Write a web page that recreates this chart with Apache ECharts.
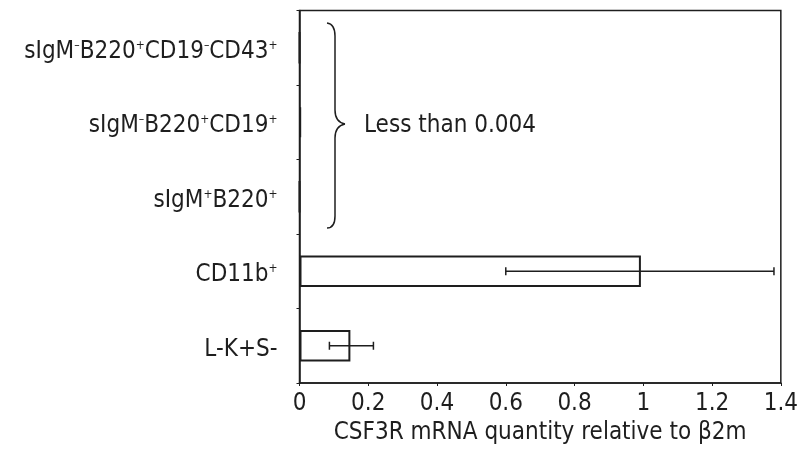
<!doctype html>
<html lang="en">
    <head>
        <meta charset="UTF-8" />
        <title>CSF3R mRNA</title>
        <script src="https://cdn.jsdelivr.net/npm/echarts@6.0.0/dist/echarts.min.js"></script>
        <style>
            body { margin: 0; background: #fff; }
        </style>
    </head>
    <body>
        <div id="main" style="width: 801px; height: 457px"></div>

        <script>
            // categories from bottom to top, "^" marks a superscript
            const categories = [
                "L-K+S-",
                "CD11b^+",
                "sIgM^+B220^+",
                "sIgM^-B220^+CD19^+",
                "sIgM^-B220^+CD19^-CD43^+",
            ];
            const values = [0.148, 0.993, 0, 0.004, 0];
            const errLow = [0.087, 0.6, null, null, null];
            const errHigh = [0.215, 1.38, null, null, null];
            const xTicks = [0, 0.2, 0.4, 0.6, 0.8, 1, 1.2, 1.4];

            const FONT = '"Liberation Sans Narrow", "DejaVu Sans Condensed", sans-serif';
            const INK = "#1e1e1e";

            const errData = [];
            categories.forEach((c, i) => {
                if (errLow[i] != null) errData.push([errLow[i], errHigh[i], i]);
            });

            function richLabel(name) {
                const body = name.replace(/\^([+-])/g, (m, s) =>
                    s === "+" ? "}{p|+}{t|" : "}{m|–}{t|"
                );
                return "{t|" + body + "}";
            }

            // curly brace next to the three tiny bars
            const braceStyle = { fill: "none", stroke: INK, lineWidth: 1.5 };
            const brace = [
                { type: "bezierCurve", shape: { x1: 327, y1: 23, cpx1: 335, cpy1: 24, x2: 335, y2: 36 } },
                { type: "line", shape: { x1: 335, y1: 36, x2: 335, y2: 110 } },
                { type: "bezierCurve", shape: { x1: 335, y1: 110, cpx1: 335, cpy1: 122, x2: 345, y2: 124 } },
                { type: "bezierCurve", shape: { x1: 345, y1: 124, cpx1: 335, cpy1: 126, x2: 335, y2: 138 } },
                { type: "line", shape: { x1: 335, y1: 138, x2: 335, y2: 216 } },
                { type: "bezierCurve", shape: { x1: 335, y1: 216, cpx1: 335, cpy1: 228, x2: 327, y2: 228 } },
            ].map((e) => Object.assign(e, { style: braceStyle }));

            const myChart = echarts.init(document.getElementById("main"));

            const options = {
                animation: false,
                grid: {
                    left: 299.5,
                    right: 19,
                    top: 10.5,
                    bottom: 74,
                    show: true,
                    borderColor: INK,
                    borderWidth: 1.5,
                    backgroundColor: "transparent",
                },
                xAxis: {
                    type: "value",
                    min: 0,
                    max: 1.4,
                    interval: 0.2,
                    splitLine: { show: false },
                    axisLine: { show: true, lineStyle: { color: INK, width: 1.5 } },
                    axisTick: { show: true, length: 3, lineStyle: { color: INK } },
                    axisLabel: {
                        color: INK,
                        fontFamily: FONT,
                        fontSize: 24,
                        margin: 9,
                        formatter: (v) => {
                            const t = xTicks.find((x) => Math.abs(x - v) < 1e-9);
                            return t === undefined ? "" : String(t);
                        },
                    },
                    name: "CSF3R mRNA quantity relative to β2m",
                    nameLocation: "middle",
                    nameGap: 37,
                    nameTextStyle: { color: INK, fontFamily: FONT, fontSize: 24 },
                },
                yAxis: {
                    type: "category",
                    data: categories,
                    axisLine: { show: true, lineStyle: { color: INK, width: 1.5 } },
                    axisTick: { show: true, length: 3, lineStyle: { color: INK } },
                    axisLabel: {
                        color: INK,
                        fontFamily: FONT,
                        fontSize: 24,
                        margin: 22,
                        padding: [8, 0, 0, 0],
                        formatter: richLabel,
                        rich: {
                            t: { fontSize: 24, fontFamily: FONT, color: INK },
                            p: { fontSize: 12, fontFamily: FONT, color: INK, verticalAlign: "top" },
                            m: { fontSize: 12, fontFamily: FONT, color: INK, verticalAlign: "top" },
                        },
                    },
                },
                series: [
                    {
                        type: "bar",
                        data: values,
                        barWidth: "42%",
                        itemStyle: {
                            color: "rgba(255,255,255,0)",
                            borderColor: INK,
                            borderWidth: 2,
                        },
                        z: 2,
                    },
                    {
                        type: "custom",
                        data: errData,
                        encode: { x: [0, 1], y: 2 },
                        z: 3,
                        renderItem: (params, api) => {
                            const cat = api.value(2);
                            const a = api.coord([api.value(0), cat]);
                            const b = api.coord([api.value(1), cat]);
                            const h = 4;
                            const style = { stroke: INK, lineWidth: 1.5 };
                            return {
                                type: "group",
                                children: [
                                    { type: "line", shape: { x1: a[0], y1: a[1], x2: b[0], y2: b[1] }, style },
                                    { type: "line", shape: { x1: a[0], y1: a[1] - h, x2: a[0], y2: a[1] + h }, style },
                                    { type: "line", shape: { x1: b[0], y1: b[1] - h, x2: b[0], y2: b[1] + h }, style },
                                ],
                            };
                        },
                    },
                ],
                graphic: brace.concat([
                    {
                        type: "text",
                        left: 364,
                        top: 114,
                        style: { text: "Less than 0.004", fill: INK, font: "24px " + FONT },
                    },
                ]),
            };

            myChart.setOption(options);
        </script>
    </body>
</html>
